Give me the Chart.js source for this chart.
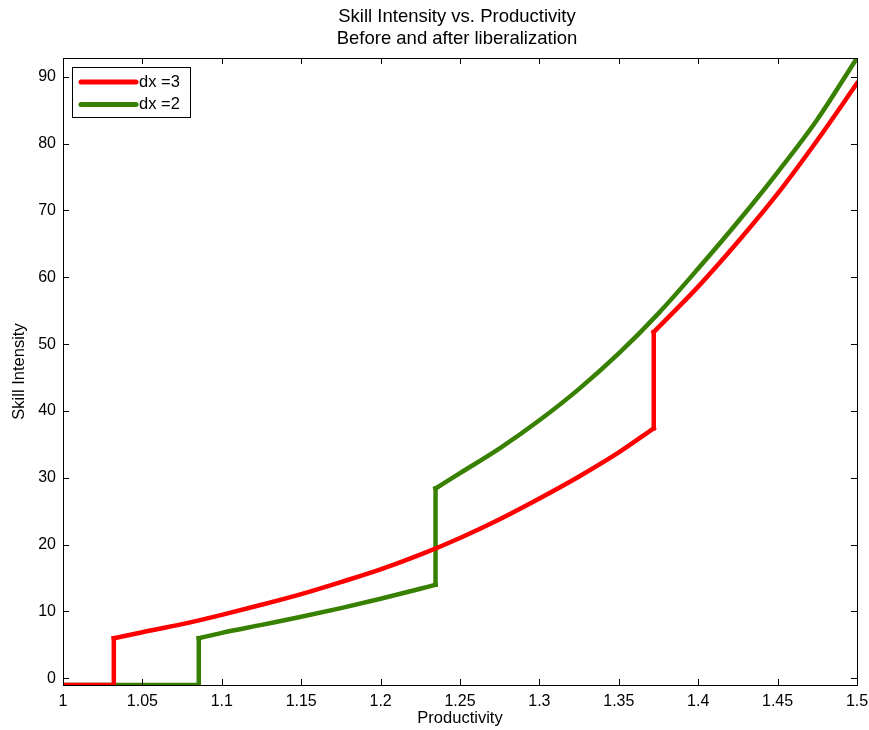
<!DOCTYPE html>
<html>
<head>
<meta charset="utf-8">
<script src="https://cdn.jsdelivr.net/npm/chart.js@4"></script>
<style>
  html, body { margin: 0; padding: 0; background: #fff; }
  #wrap { width: 869px; height: 730px; }
</style>
</head>
<body>
<div id="wrap"><canvas id="skill-chart"></canvas></div>
<script>
"use strict";

////////  DATA ///////////
const chart_title = ['Skill Intensity vs. Productivity', 'Before and after liberalization'];
const x_ticks = [1, 1.05, 1.1, 1.15, 1.2, 1.25, 1.3, 1.35, 1.4, 1.45, 1.5];
const x_tick_labels = ['1', '1.05', '1.1', '1.15', '1.2', '1.25', '1.3', '1.35', '1.4', '1.45', '1.5'];
const y_ticks = [0, 10, 20, 30, 40, 50, 60, 70, 80, 90];

// dx = 3 (red)
const dx3_x = [1, 1.032, 1.032, 1.05, 1.075, 1.1, 1.125, 1.15, 1.175, 1.2, 1.225, 1.25, 1.275, 1.3, 1.325, 1.35, 1.372,
               1.372, 1.4, 1.425, 1.45, 1.475, 1.5];
const dx3_y = [-1, -1, 6.0, 6.9, 8.1, 9.5, 11.0, 12.6, 14.4, 16.3, 18.5, 21.0, 23.8, 26.9, 30.2, 33.8, 37.4,
               51.8, 58.6, 65.3, 72.5, 80.5, 89.0];

// dx = 2 (green)
const dx2_x = [1, 1.0855, 1.0855, 1.1, 1.125, 1.15, 1.175, 1.2, 1.225, 1.2346,
               1.2346, 1.25, 1.275, 1.3, 1.325, 1.35, 1.375, 1.4, 1.425, 1.45, 1.475, 1.5];
const dx2_y = [-1, -1, 6.0, 6.8, 8.0, 9.2, 10.5, 11.9, 13.4, 14.0,
               28.4, 30.7, 34.4, 38.6, 43.3, 48.6, 54.6, 61.3, 68.3, 75.7, 83.6, 92.8];

const series_names = ['dx =3', 'dx =2'];
const series_colors = ['#ff0000', 'rgb(56,128,0)'];

////////  HELPERS ///////////
const FONT = 'Liberation Sans, Arial, sans-serif';

// split a step curve into pieces: flat / vertical jumps / smooth parts
function make_pieces(xs, ys, color) {
  const pieces = [];
  let cur = [{x: xs[0], y: ys[0]}];
  for (let i = 1; i < xs.length; i++) {
    const p = {x: xs[i], y: ys[i]};
    if (xs[i] === xs[i - 1]) {
      // vertical jump: close current piece, add the jump as its own piece
      pieces.push(cur);
      pieces.push([cur[cur.length - 1], p]);
      cur = [p];
    } else {
      cur.push(p);
    }
  }
  pieces.push(cur);
  return pieces.map(pts => ({
    data: pts,
    showLine: true,
    borderColor: color,
    borderWidth: 4.5,
    borderCapStyle: 'square',
    pointRadius: 0,
    cubicInterpolationMode: 'monotone'
  }));
}

// MATLAB style title, box, inward ticks on all four sides and legend
const matlab_axes = {
  id: 'matlab_axes',
  afterDraw(chart) {
    const ctx = chart.ctx;
    const a = chart.chartArea;
    const xs = chart.scales.x;
    const ys = chart.scales.y;
    const tick_len = 6;
    ctx.save();

    // title, centred over the axes box
    ctx.fillStyle = '#000';
    ctx.font = '18.5px ' + FONT;
    ctx.textAlign = 'center';
    ctx.textBaseline = 'middle';
    const cx = (a.left + a.right) / 2 - 3;
    ctx.fillText(chart_title[0], cx, 17);
    ctx.fillText(chart_title[1], cx, 39);
    ctx.textAlign = 'left';

    ctx.strokeStyle = '#000';
    ctx.lineWidth = 1;
    ctx.beginPath();
    x_ticks.forEach(v => {
      const px = Math.round(xs.getPixelForValue(v)) + 0.5;
      ctx.moveTo(px, a.bottom); ctx.lineTo(px, a.bottom - tick_len);
      ctx.moveTo(px, a.top); ctx.lineTo(px, a.top + tick_len);
    });
    y_ticks.forEach(v => {
      const py = Math.round(ys.getPixelForValue(v)) + 0.5;
      ctx.moveTo(a.left, py); ctx.lineTo(a.left + tick_len, py);
      ctx.moveTo(a.right, py); ctx.lineTo(a.right - tick_len, py);
    });
    ctx.stroke();
    ctx.strokeRect(Math.round(a.left) + 0.5, Math.round(a.top) + 0.5,
                   Math.round(a.right - a.left), Math.round(a.bottom - a.top));

    // legend
    const lx = a.left + 9, ly = a.top + 9, lw = 118, lh = 50;
    ctx.fillStyle = '#fff';
    ctx.fillRect(lx, ly, lw, lh);
    ctx.strokeRect(Math.round(lx) + 0.5, Math.round(ly) + 0.5, lw, lh);
    ctx.font = '16.5px ' + FONT;
    ctx.lineCap = 'round';
    series_names.forEach((name, i) => {
      const cy = ly + 15 + i * 22.5;
      ctx.strokeStyle = series_colors[i];
      ctx.lineWidth = 5;
      ctx.beginPath();
      ctx.moveTo(lx + 9, cy); ctx.lineTo(lx + 64, cy);
      ctx.stroke();
      ctx.fillStyle = '#000';
      ctx.fillText(name, lx + 67, cy);
    });
    ctx.restore();
  }
};

////////  CHART ///////////
const skill_ctx = document.getElementById('skill-chart').getContext('2d');
const skill_chart = new Chart(skill_ctx, {
  type: 'scatter',
  data: {
    datasets: [
      ...make_pieces(dx3_x, dx3_y, series_colors[0]),
      ...make_pieces(dx2_x, dx2_y, series_colors[1])
    ]
  },
  options: {
    responsive: true,
    maintainAspectRatio: false,
    animation: false,
    layout: {padding: {left: 0, right: 12, top: 58, bottom: 0}},
    scales: {
      x: {
        type: 'linear',
        min: 1,
        max: 1.5,
        afterBuildTicks: s => { s.ticks = x_ticks.map(v => ({value: v})); },
        afterFit: s => { s.height = 45; s.paddingRight = 0; s.paddingLeft = 0; },
        grid: {display: false, drawTicks: false},
        border: {display: false},
        ticks: {
          padding: 7,
          color: '#000',
          font: {family: FONT, size: 16},
          callback: (v, i) => x_tick_labels[i]
        },
        title: {
          display: true,
          text: 'Productivity',
          color: '#000',
          font: {family: FONT, size: 16.5},
          padding: {top: 0, bottom: 2}
        }
      },
      y: {
        min: -1,
        max: 92.8,
        afterBuildTicks: s => { s.ticks = y_ticks.map(v => ({value: v})); },
        afterFit: s => { s.width = 63; s.paddingTop = 0; s.paddingBottom = 0; },
        grid: {display: false, drawTicks: false},
        border: {display: false},
        ticks: {
          padding: 7,
          color: '#000',
          font: {family: FONT, size: 16}
        },
        title: {
          display: true,
          text: 'Skill Intensity',
          color: '#000',
          font: {family: FONT, size: 16.5},
          padding: {top: 10, bottom: 0}
        }
      }
    },
    plugins: {
      legend: {display: false},
      tooltip: {enabled: false},
      title: {display: false}
    }
  },
  plugins: [matlab_axes]
});
</script>
</body>
</html>
